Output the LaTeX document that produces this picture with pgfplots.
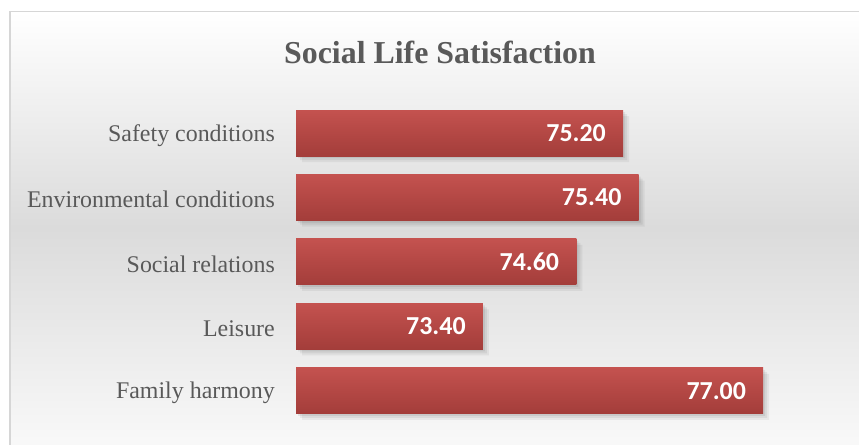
\documentclass[border=0pt]{standalone}
\usepackage{pgfplots}
\pgfplotsset{compat=1.18}
\usepackage{fontspec}
\setmainfont{Liberation Serif}
\newfontfamily\calibri{Carlito}
\definecolor{txtgray}{HTML}{595959}
\definecolor{bartop}{HTML}{C4524F}
\definecolor{barbot}{HTML}{A33D3A}
\definecolor{bgmid}{HTML}{DBDBDB}
\definecolor{bgbot}{HTML}{FAFAFA}
\definecolor{border}{HTML}{D6D6D6}
\begin{document}
\begin{tikzpicture}[x=1bp,y=1bp]
\path[use as bounding box] (0,0) rectangle (859,445);
\fill[white] (0,0) rectangle (859,445);
\shade[top color=white, bottom color=bgmid] (10,217) rectangle (870,433.5);
\shade[top color=bgmid, bottom color=bgbot] (10,-10) rectangle (870,217);
\draw[border, line width=1.5bp] (9.75,-10) -- (9.75,433.25) -- (870,433.25);
\node[font=\fontsize{32}{38}\selectfont\bfseries, text=txtgray] at (440,393) {Social Life Satisfaction};
\begin{axis}[
  at={(296bp,22bp)}, anchor=south west,
  scale only axis, width=545bp, height=322bp,
  x coord trafo/.code={\pgfmathparse{#1-71}},
  x coord inv trafo/.code={\pgfmathparse{#1+71}},
  xmin=71, xmax=78, ymin=-0.5, ymax=4.5,
  axis line style={draw=none},
  xtick=\empty,
  ytick={0,1,2,3,4},
  yticklabels={Family harmony, Leisure, Social relations, Environmental conditions, Safety conditions},
  major tick length=0pt,
  yticklabel style={font=\fontsize{24}{28}\selectfont, text=txtgray, anchor=east, inner sep=0pt, xshift=-21bp, yshift=-2bp},
  xbar, bar width=46bp, bar shift=0pt,
  clip=false,
  shadowbar/.style={draw=none, fill=black, fill opacity=#1},
  redbar/.style={draw=none, top color=bartop, bottom color=barbot,
    nodes near coords,
    nodes near coords align={anchor=east},
    point meta=explicit symbolic,
    every node near coord/.append style={font=\calibri\bfseries\fontsize{26}{30}\selectfont, text=white, inner sep=0pt, xshift=-17bp}},
]
\addplot[shadowbar=0.05, transform canvas={xshift=6bp, yshift=-6bp}]
  coordinates {(77.00,0) (73.40,1) (74.60,2) (75.40,3) (75.20,4)};
\addplot[shadowbar=0.06, transform canvas={xshift=4bp, yshift=-4bp}]
  coordinates {(77.00,0) (73.40,1) (74.60,2) (75.40,3) (75.20,4)};
\addplot[shadowbar=0.07, transform canvas={xshift=2bp, yshift=-2bp}]
  coordinates {(77.00,0) (73.40,1) (74.60,2) (75.40,3) (75.20,4)};
\addplot[redbar] coordinates {(77.00,0) [77.00]};
\addplot[redbar] coordinates {(73.40,1) [73.40]};
\addplot[redbar] coordinates {(74.60,2) [74.60]};
\addplot[redbar] coordinates {(75.40,3) [75.40]};
\addplot[redbar] coordinates {(75.20,4) [75.20]};
\end{axis}
\end{tikzpicture}
\end{document}
